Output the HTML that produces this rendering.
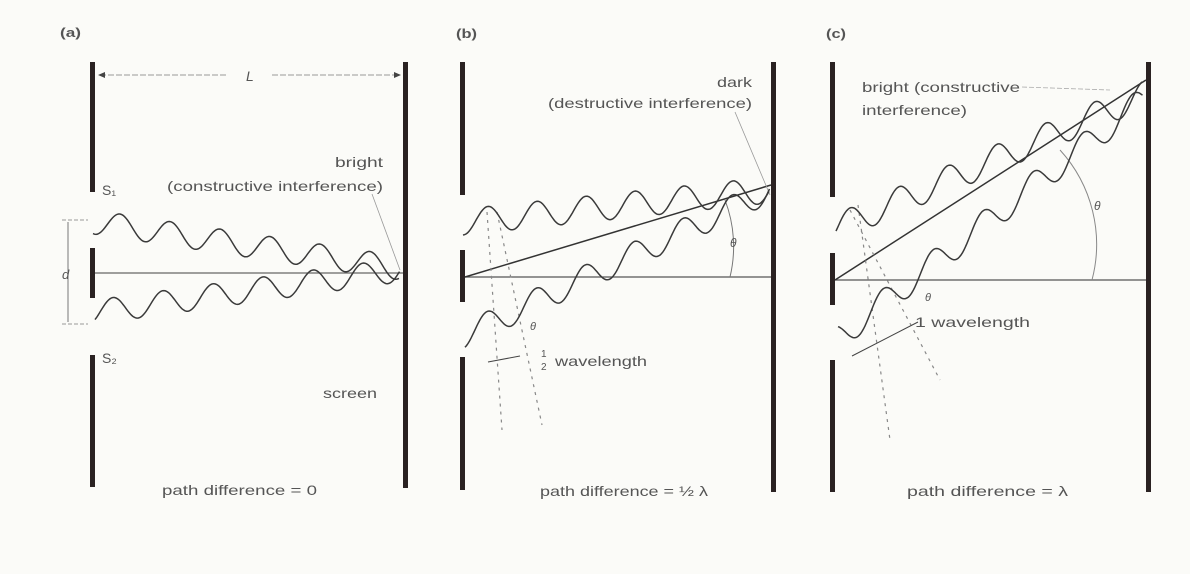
<!DOCTYPE html>
<html><head><meta charset="utf-8">
<style>
html,body{margin:0;padding:0;background:#fbfbf8;}
svg{display:block;}
text{font-family:"Liberation Sans",sans-serif;fill:#555;}
</style></head>
<body>
<svg id="fig" width="1190" height="574" viewBox="0 0 1190 574">
<rect x="0" y="0" width="1190" height="574" fill="#fbfbf8"/>

<!-- Panel a -->
<g>
<text x="60" y="37" font-size="13" font-weight="bold" fill="#444" textLength="21" lengthAdjust="spacingAndGlyphs">(a)</text>
<rect x="90" y="62" width="5" height="130" fill="#2a2222"/>
<rect x="90" y="248" width="5" height="50" fill="#2a2222"/>
<rect x="90" y="355" width="5" height="132" fill="#2a2222"/>
<rect x="403" y="62" width="5" height="426" fill="#2a2222"/>
<line x1="95" y1="273" x2="403" y2="273" stroke="#666" stroke-width="1.3"/>
<line x1="100" y1="75" x2="228" y2="75" stroke="#999" stroke-width="1" stroke-dasharray="6,2"/>
<line x1="272" y1="75" x2="398" y2="75" stroke="#999" stroke-width="1" stroke-dasharray="6,2"/>
<path d="M98 75 l7 -3 v6 z M401 75 l-7 -3 v6 z" fill="#444"/>
<text x="246" y="81" font-size="14" font-style="italic" fill="#444">L</text>
<text x="102" y="195" font-size="14" fill="#555">S₁</text>
<text x="102" y="363" font-size="14" fill="#555">S₂</text>
<line x1="68" y1="222" x2="68" y2="322" stroke="#777" stroke-width="1"/>
<line x1="62" y1="220" x2="88" y2="220" stroke="#999" stroke-width="1" stroke-dasharray="4,2"/>
<line x1="62" y1="324" x2="88" y2="324" stroke="#999" stroke-width="1" stroke-dasharray="4,2"/>
<text x="62" y="279" font-size="13" font-style="italic">d</text>
<text x="335" y="167" font-size="14" textLength="48" lengthAdjust="spacingAndGlyphs">bright</text>
<text x="167" y="191" font-size="14" textLength="216" lengthAdjust="spacingAndGlyphs">(constructive interference)</text>
<line x1="372" y1="194" x2="400" y2="270" stroke="#999" stroke-width="0.8"/>
<text x="323" y="398" font-size="14" textLength="54" lengthAdjust="spacingAndGlyphs">screen</text>
<text x="162" y="495" font-size="14" textLength="155" lengthAdjust="spacingAndGlyphs">path difference = 0</text>
</g>

<!-- Panel b -->
<g>
<text x="456" y="38" font-size="13" font-weight="bold" fill="#444" textLength="21" lengthAdjust="spacingAndGlyphs">(b)</text>
<rect x="460" y="62" width="5" height="133" fill="#2a2222"/>
<rect x="460" y="250" width="5" height="52" fill="#2a2222"/>
<rect x="460" y="357" width="5" height="133" fill="#2a2222"/>
<rect x="771" y="62" width="5" height="430" fill="#2a2222"/>
<line x1="465" y1="277" x2="771" y2="277" stroke="#555" stroke-width="1.3"/>
<line x1="465" y1="277" x2="771" y2="185" stroke="#333" stroke-width="1.5"/>
<path d="M725 200 A 130 130 0 0 1 730 277" fill="none" stroke="#777" stroke-width="1"/>
<text x="730" y="247" font-size="12" font-style="italic">θ</text>
<text x="717" y="87" font-size="14" textLength="35" lengthAdjust="spacingAndGlyphs">dark</text>
<text x="548" y="108" font-size="14" textLength="204" lengthAdjust="spacingAndGlyphs">(destructive interference)</text>
<line x1="735" y1="112" x2="770" y2="195" stroke="#999" stroke-width="0.8"/>
<line x1="487" y1="212" x2="502" y2="430" stroke="#888" stroke-width="1.2" stroke-dasharray="3,5"/>
<line x1="497" y1="212" x2="542" y2="425" stroke="#888" stroke-width="1.2" stroke-dasharray="3,5"/>
<line x1="488" y1="362" x2="520" y2="356" stroke="#444" stroke-width="1"/>
<text x="530" y="330" font-size="11" font-style="italic">θ</text>
<text x="541" y="357" font-size="10">1</text>
<text x="541" y="370" font-size="10">2</text>
<text x="555" y="366" font-size="14" textLength="92" lengthAdjust="spacingAndGlyphs">wavelength</text>
<text x="540" y="496" font-size="14" textLength="168" lengthAdjust="spacingAndGlyphs">path difference = ½ λ</text>
</g>

<!-- Panel c -->
<g>
<text x="826" y="38" font-size="13" font-weight="bold" fill="#444" textLength="20" lengthAdjust="spacingAndGlyphs">(c)</text>
<rect x="830" y="62" width="5" height="135" fill="#2a2222"/>
<rect x="830" y="253" width="5" height="52" fill="#2a2222"/>
<rect x="830" y="360" width="5" height="132" fill="#2a2222"/>
<rect x="1146" y="62" width="5" height="430" fill="#2a2222"/>
<line x1="835" y1="280" x2="1146" y2="280" stroke="#555" stroke-width="1.3"/>
<line x1="835" y1="280" x2="1146" y2="80" stroke="#333" stroke-width="1.5"/>
<path d="M1060 150 A 140 140 0 0 1 1092 280" fill="none" stroke="#888" stroke-width="1"/>
<text x="1094" y="210" font-size="12" font-style="italic">θ</text>
<text x="862" y="92" font-size="14" textLength="158" lengthAdjust="spacingAndGlyphs">bright (constructive</text>
<text x="862" y="115" font-size="14" textLength="105" lengthAdjust="spacingAndGlyphs">interference)</text>
<line x1="1022" y1="87" x2="1110" y2="90" stroke="#aaa" stroke-width="0.8" stroke-dasharray="5,2"/>
<line x1="850" y1="210" x2="940" y2="380" stroke="#888" stroke-width="1.2" stroke-dasharray="3,5"/>
<line x1="858" y1="205" x2="890" y2="440" stroke="#888" stroke-width="1.2" stroke-dasharray="3,5"/>
<line x1="852" y1="356" x2="918" y2="322" stroke="#444" stroke-width="1"/>
<text x="925" y="301" font-size="11" font-style="italic">θ</text>
<text x="915" y="327" font-size="14" textLength="115" lengthAdjust="spacingAndGlyphs">1 wavelength</text>
<text x="907" y="496" font-size="14" textLength="161" lengthAdjust="spacingAndGlyphs">path difference = λ</text>
</g>
<g id="waves"></g>
</svg>
<script>
// wave centre lines: start/end points, amplitude, wavelength and x of a crest
const waveStartX = [93, 95, 463, 465, 836, 838];
const waveStartY = [222, 312, 222, 335, 228, 338];
const waveEndX = [400, 400, 770, 770, 1143, 1143];
const waveEndY = [268, 270, 190, 190, 95, 100];
const waveAmp = [12, 12, 13, 13, 14, 14];
const waveLen = [50, 50, 49, 49, 49, 50];
const wavePeakX = [120, 113, 488, 487, 850, 883];
const g = document.getElementById('waves');
for (let i = 0; i < waveStartX.length; i++) {
  const slope = (waveEndY[i] - waveStartY[i]) / (waveEndX[i] - waveStartX[i]);
  let d = '';
  for (let x = waveStartX[i]; x <= waveEndX[i]; x += 1.5) {
    const y = waveStartY[i] + slope * (x - waveStartX[i]) - waveAmp[i] * Math.cos(2 * Math.PI * (x - wavePeakX[i]) / waveLen[i]);
    d += (x === waveStartX[i] ? 'M' : 'L') + x.toFixed(1) + ' ' + y.toFixed(1);
  }
  const p = document.createElementNS('http://www.w3.org/2000/svg', 'path');
  p.setAttribute('d', d);
  p.setAttribute('fill', 'none');
  p.setAttribute('stroke', '#3a3a3a');
  p.setAttribute('stroke-width', '1.5');
  
  
  g.appendChild(p);
}
</script>
</body></html>
